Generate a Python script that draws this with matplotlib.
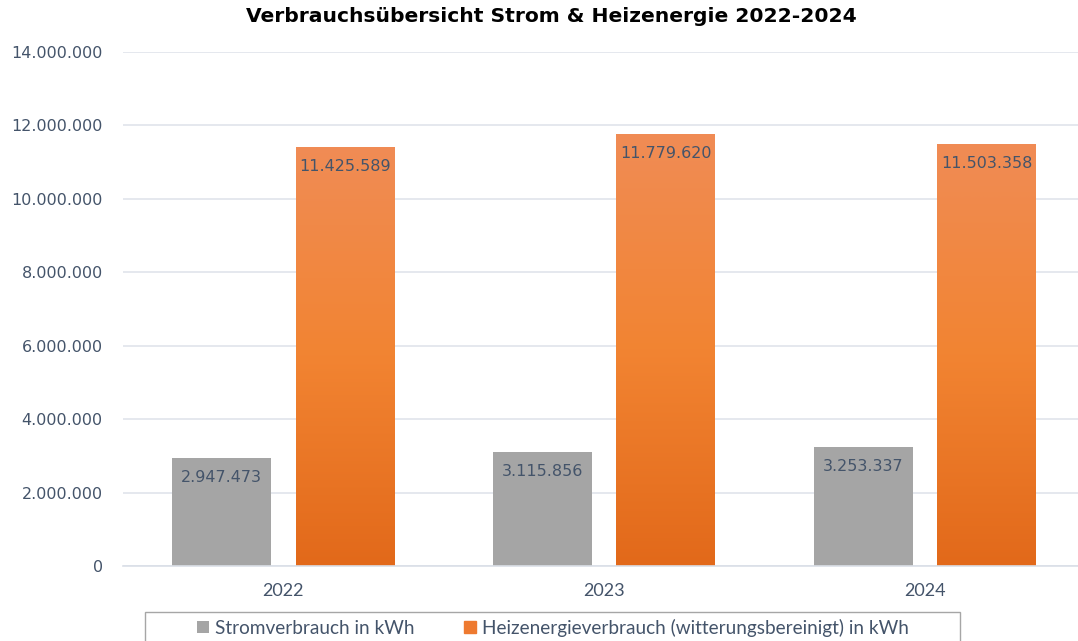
import numpy as np
import matplotlib
matplotlib.use('Agg')
from matplotlib import pyplot as plt
from matplotlib.colors import LinearSegmentedColormap
from matplotlib.patches import Rectangle
from matplotlib.ticker import FuncFormatter

years = ['2022', '2023', '2024']
strom = [2947473, 3115856, 3253337]
heizung = [11425589, 11779620, 11503358]
series_names = ['Stromverbrauch in kWh',
                'Heizenergieverbrauch (witterungsbereinigt) in kWh']


def de_format(v):
    return f'{int(round(v)):,}'.replace(',', '.')


fig = plt.figure(figsize=(10.78, 6.41), dpi=100)
W, H = 1078, 641
# plot area in pixels: left 123, right 1085, top 52 (14 Mio), bottom 566 (0)
ax = fig.add_axes([123 / W, 1 - 566 / H, (1085.5 - 123) / W, (566 - 52) / H])

x = np.arange(len(years))
width = 0.308
offset = 0.192

gray_bars = ax.bar(x - offset, strom, width, color='#A5A5A5', zorder=2)
orange_bars = ax.bar(x + offset, heizung, width, color='#EE7A30', zorder=2)

# vertical gradient for the orange bars
cmap = LinearSegmentedColormap.from_list('org', ['#E2691A', '#F28432', '#F08C55'])
grad = np.linspace(0, 1, 256).reshape(-1, 1)
for bar in orange_bars:
    bx, by = bar.get_x(), bar.get_y()
    bw, bh = bar.get_width(), bar.get_height()
    im = ax.imshow(grad, cmap=cmap, origin='lower', aspect='auto',
                   extent=[bx, bx + bw, by, by + bh], zorder=2.1,
                   interpolation='bicubic')
    im.set_clip_path(bar)
ax.set_xlim(-0.5, 2.5)
ax.set_ylim(0, 14000000)

label_color = '#44546A'
for bars in (gray_bars, orange_bars):
    for bar in bars:
        ax.annotate(de_format(bar.get_height()),
                    (bar.get_x() + bar.get_width() / 2, bar.get_height()),
                    xytext=(0, -19.5), textcoords='offset pixels',
                    ha='center', va='center', fontsize=11.5,
                    color=label_color, family='DejaVu Sans', zorder=3)

ax.set_yticks(np.arange(0, 14000001, 2000000))
ax.yaxis.set_major_formatter(FuncFormatter(lambda v, p: de_format(v)))
ax.set_xticks(x)
ax.set_xticklabels(years)
ax.tick_params(axis='y', length=0, pad=14.5, labelsize=11.5, labelcolor='#44546A')
ax.tick_params(axis='x', length=0, pad=12.5, labelsize=13, labelcolor='#44546A')
for lab in ax.get_yticklabels():
    lab.set_family('DejaVu Sans')
for lab in ax.get_xticklabels():
    lab.set_family('Lato')

ax.grid(axis='y', color='#E0E4EB', linewidth=1.2, zorder=0)
ax.set_axisbelow(True)
for side in ['top', 'right', 'left']:
    ax.spines[side].set_visible(False)
ax.spines['bottom'].set_color('#DADFE7')
ax.spines['bottom'].set_linewidth(1.2)

fig.text(551.5 / W, 1 - 17 / H, 'Verbrauchsübersicht Strom & Heizenergie 2022-2024',
         ha='center', va='center', fontsize=14.6, fontweight='bold',
         family='DejaVu Sans')

# legend frame (cut off at the bottom edge, like the reference)
fig.patches.append(Rectangle((145 / W, -0.05), (960 - 145) / W, 1 - 611.5 / H + 0.05,
                             transform=fig.transFigure, facecolor='white',
                             edgecolor='#A6A6A6', linewidth=1.0))
leg = fig.legend(handles=[gray_bars, orange_bars], labels=series_names,
                 loc='center', bbox_to_anchor=(553 / W, 1 - 627.5 / H),
                 bbox_transform=fig.transFigure, ncol=2, frameon=False,
                 handlelength=0.63, handleheight=0.55, handletextpad=0.3,
                 columnspacing=2.6, borderpad=0,
                 prop={'family': 'Lato', 'size': 13.7})
for t in leg.get_texts():
    t.set_color('#44546A')
leg.legend_handles[1].set_color('#EE7A30')

fig.savefig('out.png', dpi=100)
